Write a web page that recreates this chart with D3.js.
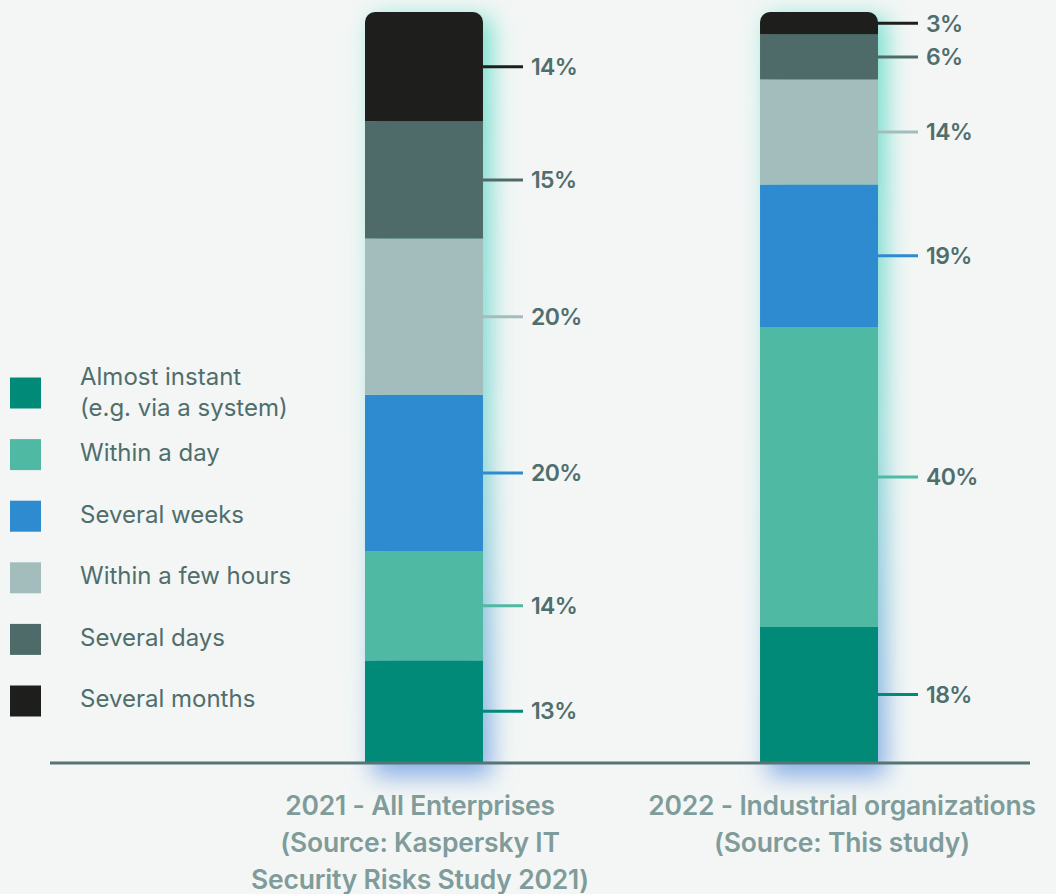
<!DOCTYPE html>
<html>
<head>
<meta charset="utf-8">
<script src="https://cdn.jsdelivr.net/npm/d3@7"></script>
<style>
  html, body { margin: 0; padding: 0; background: #f3f6f5; }
  svg { display: block; font-family: "Inter", "Lato", sans-serif; }
</style>
</head>
<body>
<div id="root"></div>
<script>
// chart data
const categories = ["2021", "2022"];
const categoryLabels = [
    ["2021 - All Enterprises", "(Source: Kaspersky IT", "Security Risks Study 2021)"],
    ["2022 - Industrial organizations", "(Source: This study)"]
];
const seriesNames = ["Almost instant", "Within a day", "Several weeks", "Within a few hours", "Several days", "Several months"];
const legendLabels = [["Almost instant", "(e.g. via a system)"], ["Within a day"], ["Several weeks"], ["Within a few hours"], ["Several days"], ["Several months"]];
const seriesColors = ["#008a77", "#50b9a3", "#2e8bd0", "#a3bdbd", "#4e6b69", "#1e1e1c"];

const almostInstant = [13, 18];
const withinADay = [14, 40];
const severalWeeks = [20, 19];
const withinFewHours = [20, 14];
const severalDays = [15, 6];
const severalMonths = [14, 3];

let width = 1056,
    height = 894,
    barTop = 12,
    baseline = 762,
    labelShift = [-4, 23];

let rows = categories.map((c, i) => ({
    category: c,
    "Almost instant": almostInstant[i],
    "Within a day": withinADay[i],
    "Several weeks": severalWeeks[i],
    "Within a few hours": withinFewHours[i],
    "Several days": severalDays[i],
    "Several months": severalMonths[i]
}));

let stacked = d3.stack().keys(seriesNames).offset(d3.stackOffsetExpand)(rows);

let x = d3.scaleBand().domain(categories).range([365, 878]).paddingInner(0.7013).paddingOuter(0);
let y = d3.scaleLinear().domain([0, 1]).range([baseline, barTop]);
let color = d3.scaleOrdinal().domain(seriesNames).range(seriesColors);

let svg = d3.select('#root').append('svg')
    .attr('width', width)
    .attr('height', height);

let defs = svg.append('defs');

// glow behind bars: teal at top, blue at bottom
let grad = defs.append('linearGradient')
    .attr('id', 'glowGrad')
    .attr('x1', 0).attr('y1', 0).attr('x2', 0).attr('y2', 1);
grad.append('stop').attr('offset', '0%').attr('stop-color', '#6fe0cc');
grad.append('stop').attr('offset', '55%').attr('stop-color', '#86d8d4');
grad.append('stop').attr('offset', '100%').attr('stop-color', '#86ace6');

defs.append('filter')
    .attr('id', 'blur')
    .attr('x', '-50%').attr('y', '-20%').attr('width', '200%').attr('height', '140%')
    .append('feGaussianBlur')
    .attr('stdDeviation', 12);

svg.append('g')
    .selectAll('rect')
    .data(categories)
    .enter()
    .append('rect')
    .attr('x', d => x(d) + 8)
    .attr('y', barTop + 6)
    .attr('width', x.bandwidth())
    .attr('height', baseline - barTop + 8)
    .attr('fill', 'url(#glowGrad)')
    .attr('filter', 'url(#blur)');

// rounded top clip for each bar
categories.forEach((c, i) => {
    defs.append('clipPath')
        .attr('id', 'clip-' + i)
        .append('rect')
        .attr('x', x(c))
        .attr('y', y(1))
        .attr('width', x.bandwidth())
        .attr('height', baseline - barTop + 20)
        .attr('rx', 10);
});

let barGroups = svg.append('g')
    .selectAll('.bar')
    .data(categories)
    .enter()
    .append('g')
    .attr('class', 'bar')
    .attr('clip-path', (d, i) => 'url(#clip-' + i + ')');

barGroups.each(function (cat, ci) {
    d3.select(this)
        .selectAll('rect')
        .data(stacked)
        .enter()
        .append('rect')
        .attr('x', x(cat))
        .attr('y', s => y(s[ci][1]))
        .attr('width', x.bandwidth())
        .attr('height', s => y(s[ci][0]) - y(s[ci][1]))
        .attr('fill', s => color(s.key));
});

// callout lines and values
let labelGroup = svg.append('g');
categories.forEach((cat, ci) => {
    stacked.forEach(s => {
        let mid = (y(s[ci][0]) + y(s[ci][1])) / 2;
        let x0 = x(cat) + x.bandwidth();
        labelGroup.append('line')
            .attr('x1', x0)
            .attr('x2', x0 + 40)
            .attr('y1', mid)
            .attr('y2', mid)
            .attr('stroke', color(s.key))
            .attr('stroke-width', 3);
        labelGroup.append('text')
            .attr('x', x0 + 48)
            .attr('y', mid)
            .attr('dy', '0.36em')
            .attr('fill', '#4f6e6c')
            .attr('font-size', 23)
            .attr('font-weight', 600)
            .attr('letter-spacing', '-0.6px')
            .text(s[ci].data[s.key] + '%');
    });
});

// baseline
svg.append('line')
    .attr('x1', 50)
    .attr('x2', 1030)
    .attr('y1', baseline + 1)
    .attr('y2', baseline + 1)
    .attr('stroke', '#557473')
    .attr('stroke-width', 3);

// category labels
categories.forEach((cat, ci) => {
    let cx = x(cat) + x.bandwidth() / 2 + labelShift[ci];
    let t = svg.append('text')
        .attr('text-anchor', 'middle')
        .attr('fill', '#7f9c9a')
        .attr('font-size', 26.5)
        .attr('font-weight', 600)
        .attr('letter-spacing', '-0.2px');
    categoryLabels[ci].forEach((line, li) => {
        t.append('tspan')
            .attr('x', cx)
            .attr('y', 815 + li * 37)
            .text(line);
    });
});

// legend
let legend = svg.append('g')
    .selectAll('.legendItem')
    .data(seriesNames)
    .enter()
    .append('g')
    .attr('class', 'legendItem')
    .attr('transform', (d, i) => 'translate(10,' + (393 + i * 61.6) + ')');

legend.append('rect')
    .attr('x', 0)
    .attr('y', -15.5)
    .attr('width', 31)
    .attr('height', 31)
    .attr('fill', d => color(d));

legend.append('text')
    .attr('fill', '#4f6e6c')
    .attr('font-size', 24)
    .attr('font-weight', 400)
    .each(function (d, i) {
        let lines = legendLabels[i];
        lines.forEach((line, li) => {
            d3.select(this).append('tspan')
                .attr('x', 70)
                .attr('y', lines.length > 1 ? -16 + li * 31 : -2)
                .attr('dy', '0.35em')
                .text(line);
        });
    });
</script>
</body>
</html>
